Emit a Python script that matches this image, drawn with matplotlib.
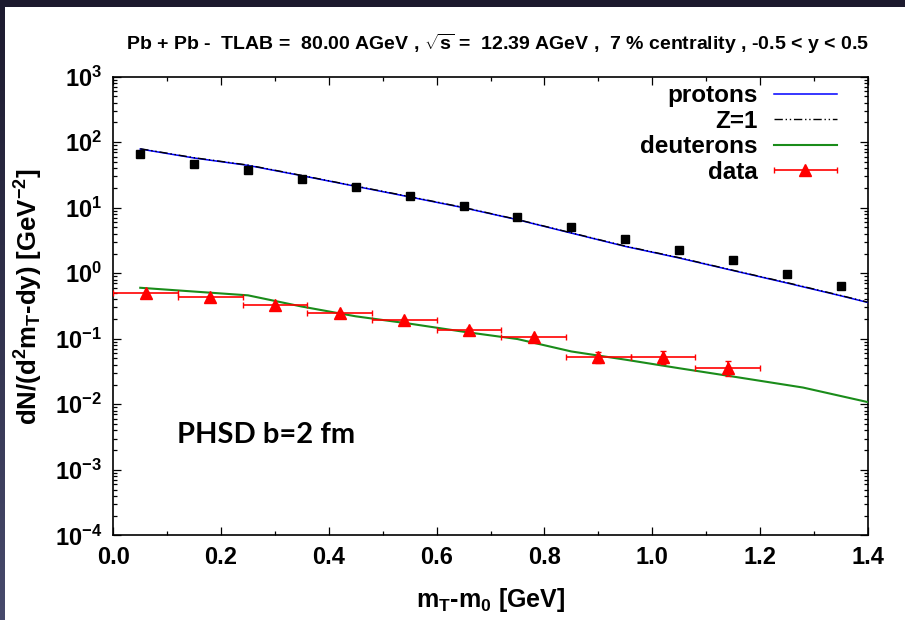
import numpy as np
import matplotlib
matplotlib.use("Agg")
import matplotlib.pyplot as plt
from matplotlib.ticker import MultipleLocator, LogLocator, NullFormatter, FixedLocator
from matplotlib.colors import LinearSegmentedColormap
from matplotlib.container import ErrorbarContainer
from matplotlib.legend_handler import HandlerErrorbar

# ---------------- data ----------------
proton_x = [0.05, 0.15, 0.25, 0.35, 0.45, 0.55, 0.65, 0.75, 0.85, 0.95, 1.05, 1.15, 1.25, 1.35]
proton_y = [65.1, 47.0, 37.1, 27.7, 20.4, 15.2, 10.7, 7.29, 5.13, 3.36, 2.28, 1.57, 0.96, 0.63]

line_x = [0.05, 0.15, 0.25, 0.35, 0.45, 0.55, 0.65, 0.75, 0.85, 0.95, 1.05, 1.15, 1.25, 1.35, 1.40]
protons_line = [78.7, 57.4, 44.3, 30.8, 21.2, 14.6, 10.0, 6.56, 4.10, 2.57, 1.71, 1.10, 0.71, 0.453, 0.358]
z1_line = [79.5, 58.0, 44.8, 31.1, 21.4, 14.8, 10.1, 6.62, 4.14, 2.60, 1.73, 1.11, 0.72, 0.458, 0.362]

deut_line_x = [0.05, 0.25, 0.35, 0.45, 0.55, 0.65, 0.75, 0.85, 0.95, 1.05, 1.15, 1.28, 1.40]
deut_line_y = [0.60, 0.46, 0.31, 0.22, 0.17, 0.128, 0.099, 0.064, 0.048, 0.0355, 0.0265, 0.018, 0.0108]

data_x = [0.06, 0.18, 0.30, 0.42, 0.54, 0.66, 0.78, 0.90, 1.02, 1.14]
data_y = [0.504, 0.428, 0.323, 0.244, 0.193, 0.137, 0.105, 0.052, 0.0525, 0.0357]
data_xerr = [0.06] * 10
data_yerr_lo = [0.02, 0.02, 0.015, 0.012, 0.01, 0.008, 0.007, 0.0094, 0.0114, 0.0091]
data_yerr_hi = [0.02, 0.02, 0.015, 0.012, 0.01, 0.008, 0.007, 0.0098, 0.0115, 0.0093]

xticks = [0.0, 0.2, 0.4, 0.6, 0.8, 1.0, 1.2, 1.4]
yticks = [1e-4, 1e-3, 1e-2, 1e-1, 1e0, 1e1, 1e2, 1e3]

# ---------------- fonts ----------------
plt.rcParams['font.family'] = ['Liberation Sans', 'DejaVu Sans']
plt.rcParams['mathtext.fontset'] = 'custom'
plt.rcParams['mathtext.rm'] = 'Liberation Sans:bold'
plt.rcParams['mathtext.bf'] = 'Liberation Sans:bold'
plt.rcParams['mathtext.it'] = 'Liberation Sans:bold'
plt.rcParams['mathtext.default'] = 'bf'

fig = plt.figure(figsize=(9.05, 6.2), dpi=100)
fig.patch.set_facecolor('white')

# dark frame strips (top and left)
top_ax = fig.add_axes([0, 1 - 7 / 620, 1, 7 / 620])
top_ax.set_facecolor('#1c1a2e')
top_ax.set_xticks([]); top_ax.set_yticks([])
for s in top_ax.spines.values():
    s.set_visible(False)
left_ax = fig.add_axes([0, 0, 5 / 905, 1])
grad = np.linspace(0, 1, 256).reshape(-1, 1)
cm = LinearSegmentedColormap.from_list('g', ['#1c1a2e', '#474a6c'])
left_ax.imshow(grad, aspect='auto', cmap=cm, origin='upper', extent=[0, 1, 0, 1])
left_ax.set_xticks([]); left_ax.set_yticks([])
for s in left_ax.spines.values():
    s.set_visible(False)

ax = fig.add_axes([113.3 / 905, (620 - 535.3) / 620, (867.7 - 113.3) / 905, (535.3 - 76.7) / 620])
ax.set_yscale('log')
ax.set_xlim(0.0, 1.4)
ax.set_ylim(1e-4, 1e3)

ax.plot(line_x, protons_line, color='#0000ff', lw=1.1, label='protons', zorder=3)
ax.plot(line_x, z1_line, color='black', lw=1.0, ls=(0, (6, 2, 1, 2, 1, 2)), label='Z=1', zorder=4)
ax.plot(deut_line_x, deut_line_y, color='#1a8c1a', lw=1.5, label='deuterons', zorder=3)
ax.errorbar(data_x, data_y, xerr=data_xerr, yerr=[data_yerr_lo, data_yerr_hi],
            fmt='^', color='red', ms=8, mec='red', elinewidth=1.2, capsize=2.5, capthick=1.0,
            label='data', zorder=5)
ax.plot(proton_x, proton_y, 's', color='black', ms=6, zorder=6)

# ticks
ax.xaxis.set_major_locator(FixedLocator(xticks))
ax.xaxis.set_minor_locator(MultipleLocator(0.1))
ax.yaxis.set_major_locator(FixedLocator(yticks))
ax.yaxis.set_minor_locator(LogLocator(base=10, subs=np.arange(2, 10) * 1.0, numticks=20))
ax.yaxis.set_minor_formatter(NullFormatter())
ax.set_xticklabels([f'{v:.1f}' for v in xticks], fontsize=17, fontweight='bold')
ax.set_yticklabels([r'$\mathbf{10^{%d}}$' % int(np.log10(v)) for v in yticks], fontsize=17)
ax.tick_params(which='both', direction='in', top=True, right=True, width=0.9)
ax.tick_params(which='major', length=6, pad=8)
ax.tick_params(which='minor', length=3)
for s in ax.spines.values():
    s.set_linewidth(1.2)

ax.set_xlabel(r'$\mathbf{m_T}$-$\mathbf{m_0}$ [GeV]', fontsize=18, fontweight='bold', labelpad=12)
ax.set_ylabel(r'dN/(d$\mathbf{^2}$m$\mathbf{_T}$-dy) [GeV$\mathbf{^{-2}}$]', fontsize=18.5,
              fontweight='bold')
ax.yaxis.set_label_coords(-0.09, 0.52)

fig.text(497 / 905, (620 - 44) / 620,
         r'Pb + Pb -  TLAB =  80.00 AGeV , $\sqrt{\mathbf{s}}$ =  12.39 AGeV ,  7 % centrality , -0.5 < y < 0.5',
         ha='center', va='center', fontsize=14, fontweight='bold')

ax.text(0.085, 0.218, 'PHSD b=2 fm', transform=ax.transAxes, fontsize=21, fontweight='bold',
        family=['Lato', 'DejaVu Sans'], va='center', ha='left')

leg = ax.legend(loc='upper right', bbox_to_anchor=(0.959, 0.983), frameon=False, markerfirst=False,
                prop={'size': 17.5, 'weight': 'bold'}, handlelength=2.6, handletextpad=0.66,
                labelspacing=0.1, borderpad=0.0, borderaxespad=0.0,
                handler_map={ErrorbarContainer: HandlerErrorbar(xerr_size=1.3, yerr_size=0.001)})

# right-align the legend labels against their handles
texts = leg.get_texts()
fig.canvas.draw()
target_right = max(t.get_window_extent().x1 for t in texts)
for t in texts:
    t.set_ha('right')
fig.canvas.draw()
for t in texts:
    e = t.get_window_extent()
    x0, y0 = t.get_position()
    t.set_position((x0 + (target_right - e.x1), y0))

fig.savefig('out.png', dpi=100)
